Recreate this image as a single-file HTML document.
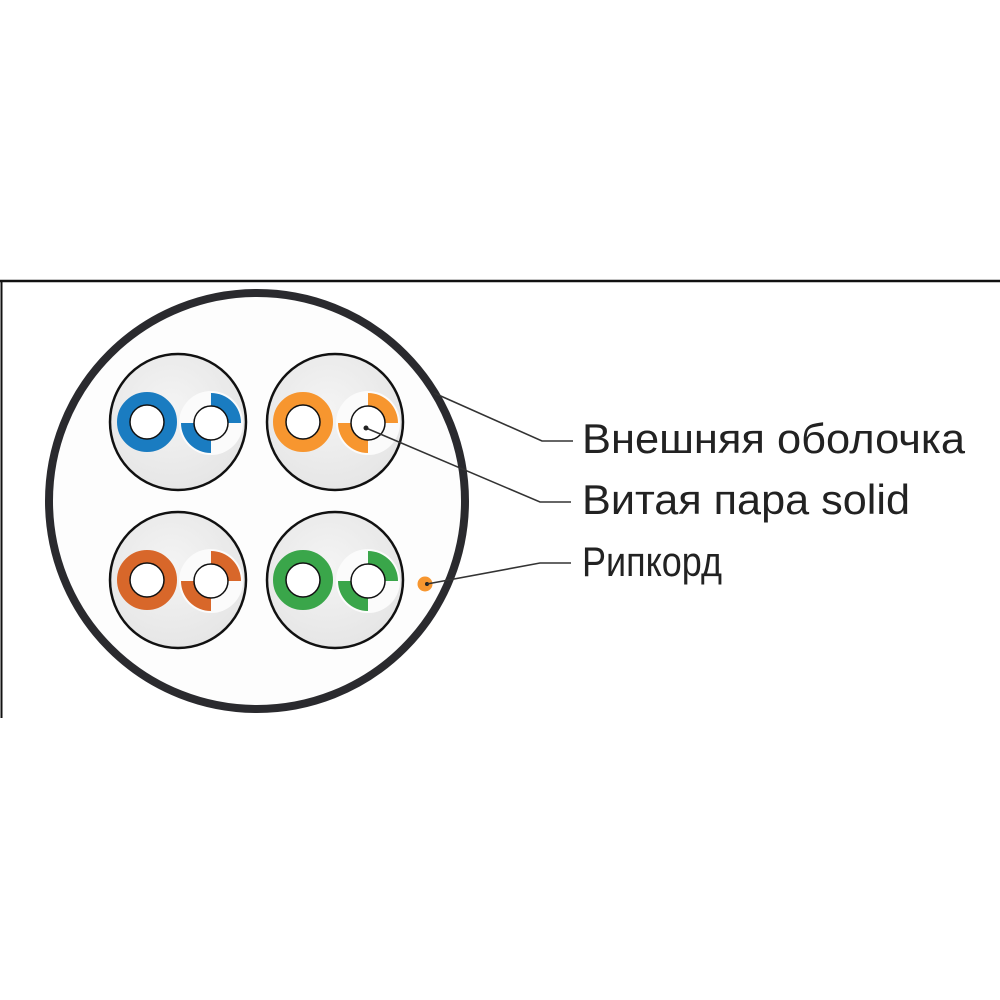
<!DOCTYPE html>
<html><head><meta charset="utf-8"><style>html,body{margin:0;padding:0;background:#fff}svg{display:block}</style></head>
<body>
<svg width="1000" height="1000" viewBox="0 0 1000 1000" xmlns="http://www.w3.org/2000/svg">
<defs>
<radialGradient id="g" cx="0.45" cy="0.4" r="0.6"><stop offset="0" stop-color="#f4f4f4"/><stop offset="1" stop-color="#e6e6e6"/></radialGradient>
</defs>
<rect x="0" y="0" width="1000" height="1000" fill="#fff"/>
<line x1="0" y1="281" x2="1000" y2="281" stroke="#111" stroke-width="2.5"/>
<line x1="1.5" y1="281" x2="1.5" y2="718" stroke="#111" stroke-width="2"/>
<circle cx="257" cy="501" r="208" fill="#fdfdfd" stroke="#2a2a2e" stroke-width="8"/>

<g transform="translate(178,422)">
 <circle r="68" fill="url(#g)" stroke="#111" stroke-width="2.5"/>
 <circle cx="-31" r="23.5" fill="none" stroke="#1a7cc1" stroke-width="13"/>
 <circle cx="-31" r="17" fill="#fff" stroke="#111" stroke-width="1.5"/>
 <g transform="translate(33,1)">
  <circle r="32" fill="#fbfbfb"/>
  <path d="M0,-30 A30,30 0 0 1 30,0 L17,0 A17,17 0 0 0 0,-17Z" fill="#1a7cc1"/>
  <path d="M-30,0 A30,30 0 0 0 0,30 L0,17 A17,17 0 0 1 -17,0Z" fill="#1a7cc1"/>
  <circle r="17" fill="#fff" stroke="#111" stroke-width="1.5"/>
 </g>
</g>
<g transform="translate(335,422)">
 <circle r="68" fill="url(#g)" stroke="#111" stroke-width="2.5"/>
 <circle cx="-32" r="23.5" fill="none" stroke="#f7962f" stroke-width="13"/>
 <circle cx="-32" r="17" fill="#fff" stroke="#111" stroke-width="1.5"/>
 <g transform="translate(33,1)">
  <circle r="32" fill="#fbfbfb"/>
  <path d="M0,-30 A30,30 0 0 1 30,0 L17,0 A17,17 0 0 0 0,-17Z" fill="#f7962f"/>
  <path d="M-30,0 A30,30 0 0 0 0,30 L0,17 A17,17 0 0 1 -17,0Z" fill="#f7962f"/>
  <circle r="17" fill="#fff" stroke="#111" stroke-width="1.5"/>
 </g>
</g>
<g transform="translate(178,580)">
 <circle r="68" fill="url(#g)" stroke="#111" stroke-width="2.5"/>
 <circle cx="-31" r="23.5" fill="none" stroke="#d8672a" stroke-width="13"/>
 <circle cx="-31" r="17" fill="#fff" stroke="#111" stroke-width="1.5"/>
 <g transform="translate(33,1)">
  <circle r="32" fill="#fbfbfb"/>
  <path d="M0,-30 A30,30 0 0 1 30,0 L17,0 A17,17 0 0 0 0,-17Z" fill="#d8672a"/>
  <path d="M-30,0 A30,30 0 0 0 0,30 L0,17 A17,17 0 0 1 -17,0Z" fill="#d8672a"/>
  <circle r="17" fill="#fff" stroke="#111" stroke-width="1.5"/>
 </g>
</g>
<g transform="translate(335,580)">
 <circle r="68" fill="url(#g)" stroke="#111" stroke-width="2.5"/>
 <circle cx="-32" r="23.5" fill="none" stroke="#3aa64a" stroke-width="13"/>
 <circle cx="-32" r="17" fill="#fff" stroke="#111" stroke-width="1.5"/>
 <g transform="translate(33,1)">
  <circle r="32" fill="#fbfbfb"/>
  <path d="M0,-30 A30,30 0 0 1 30,0 L17,0 A17,17 0 0 0 0,-17Z" fill="#3aa64a"/>
  <path d="M-30,0 A30,30 0 0 0 0,30 L0,17 A17,17 0 0 1 -17,0Z" fill="#3aa64a"/>
  <circle r="17" fill="#fff" stroke="#111" stroke-width="1.5"/>
 </g>
</g>

<circle cx="425" cy="584" r="7.5" fill="#f7962f"/>
<circle cx="427" cy="584" r="2" fill="#222"/>

<g fill="none" stroke="#333" stroke-width="1.6">
<polyline points="434,393 542,441 573,441"/>
<polyline points="366,428 540,502 571,502"/>
<polyline points="427,584 540,563 571,563"/>
</g>
<circle cx="366" cy="428" r="2.5" fill="#222"/>

<g font-family="'Liberation Sans Narrow','Liberation Sans',sans-serif" font-size="42" fill="#222">
<text x="582" y="453" textLength="383" lengthAdjust="spacingAndGlyphs">Внешняя оболочка</text>
<text x="582" y="514" textLength="328" lengthAdjust="spacingAndGlyphs">Витая пара solid</text>
<text x="582" y="576" textLength="140" lengthAdjust="spacingAndGlyphs">Рипкорд</text>
</g>
</svg>
</body></html>
